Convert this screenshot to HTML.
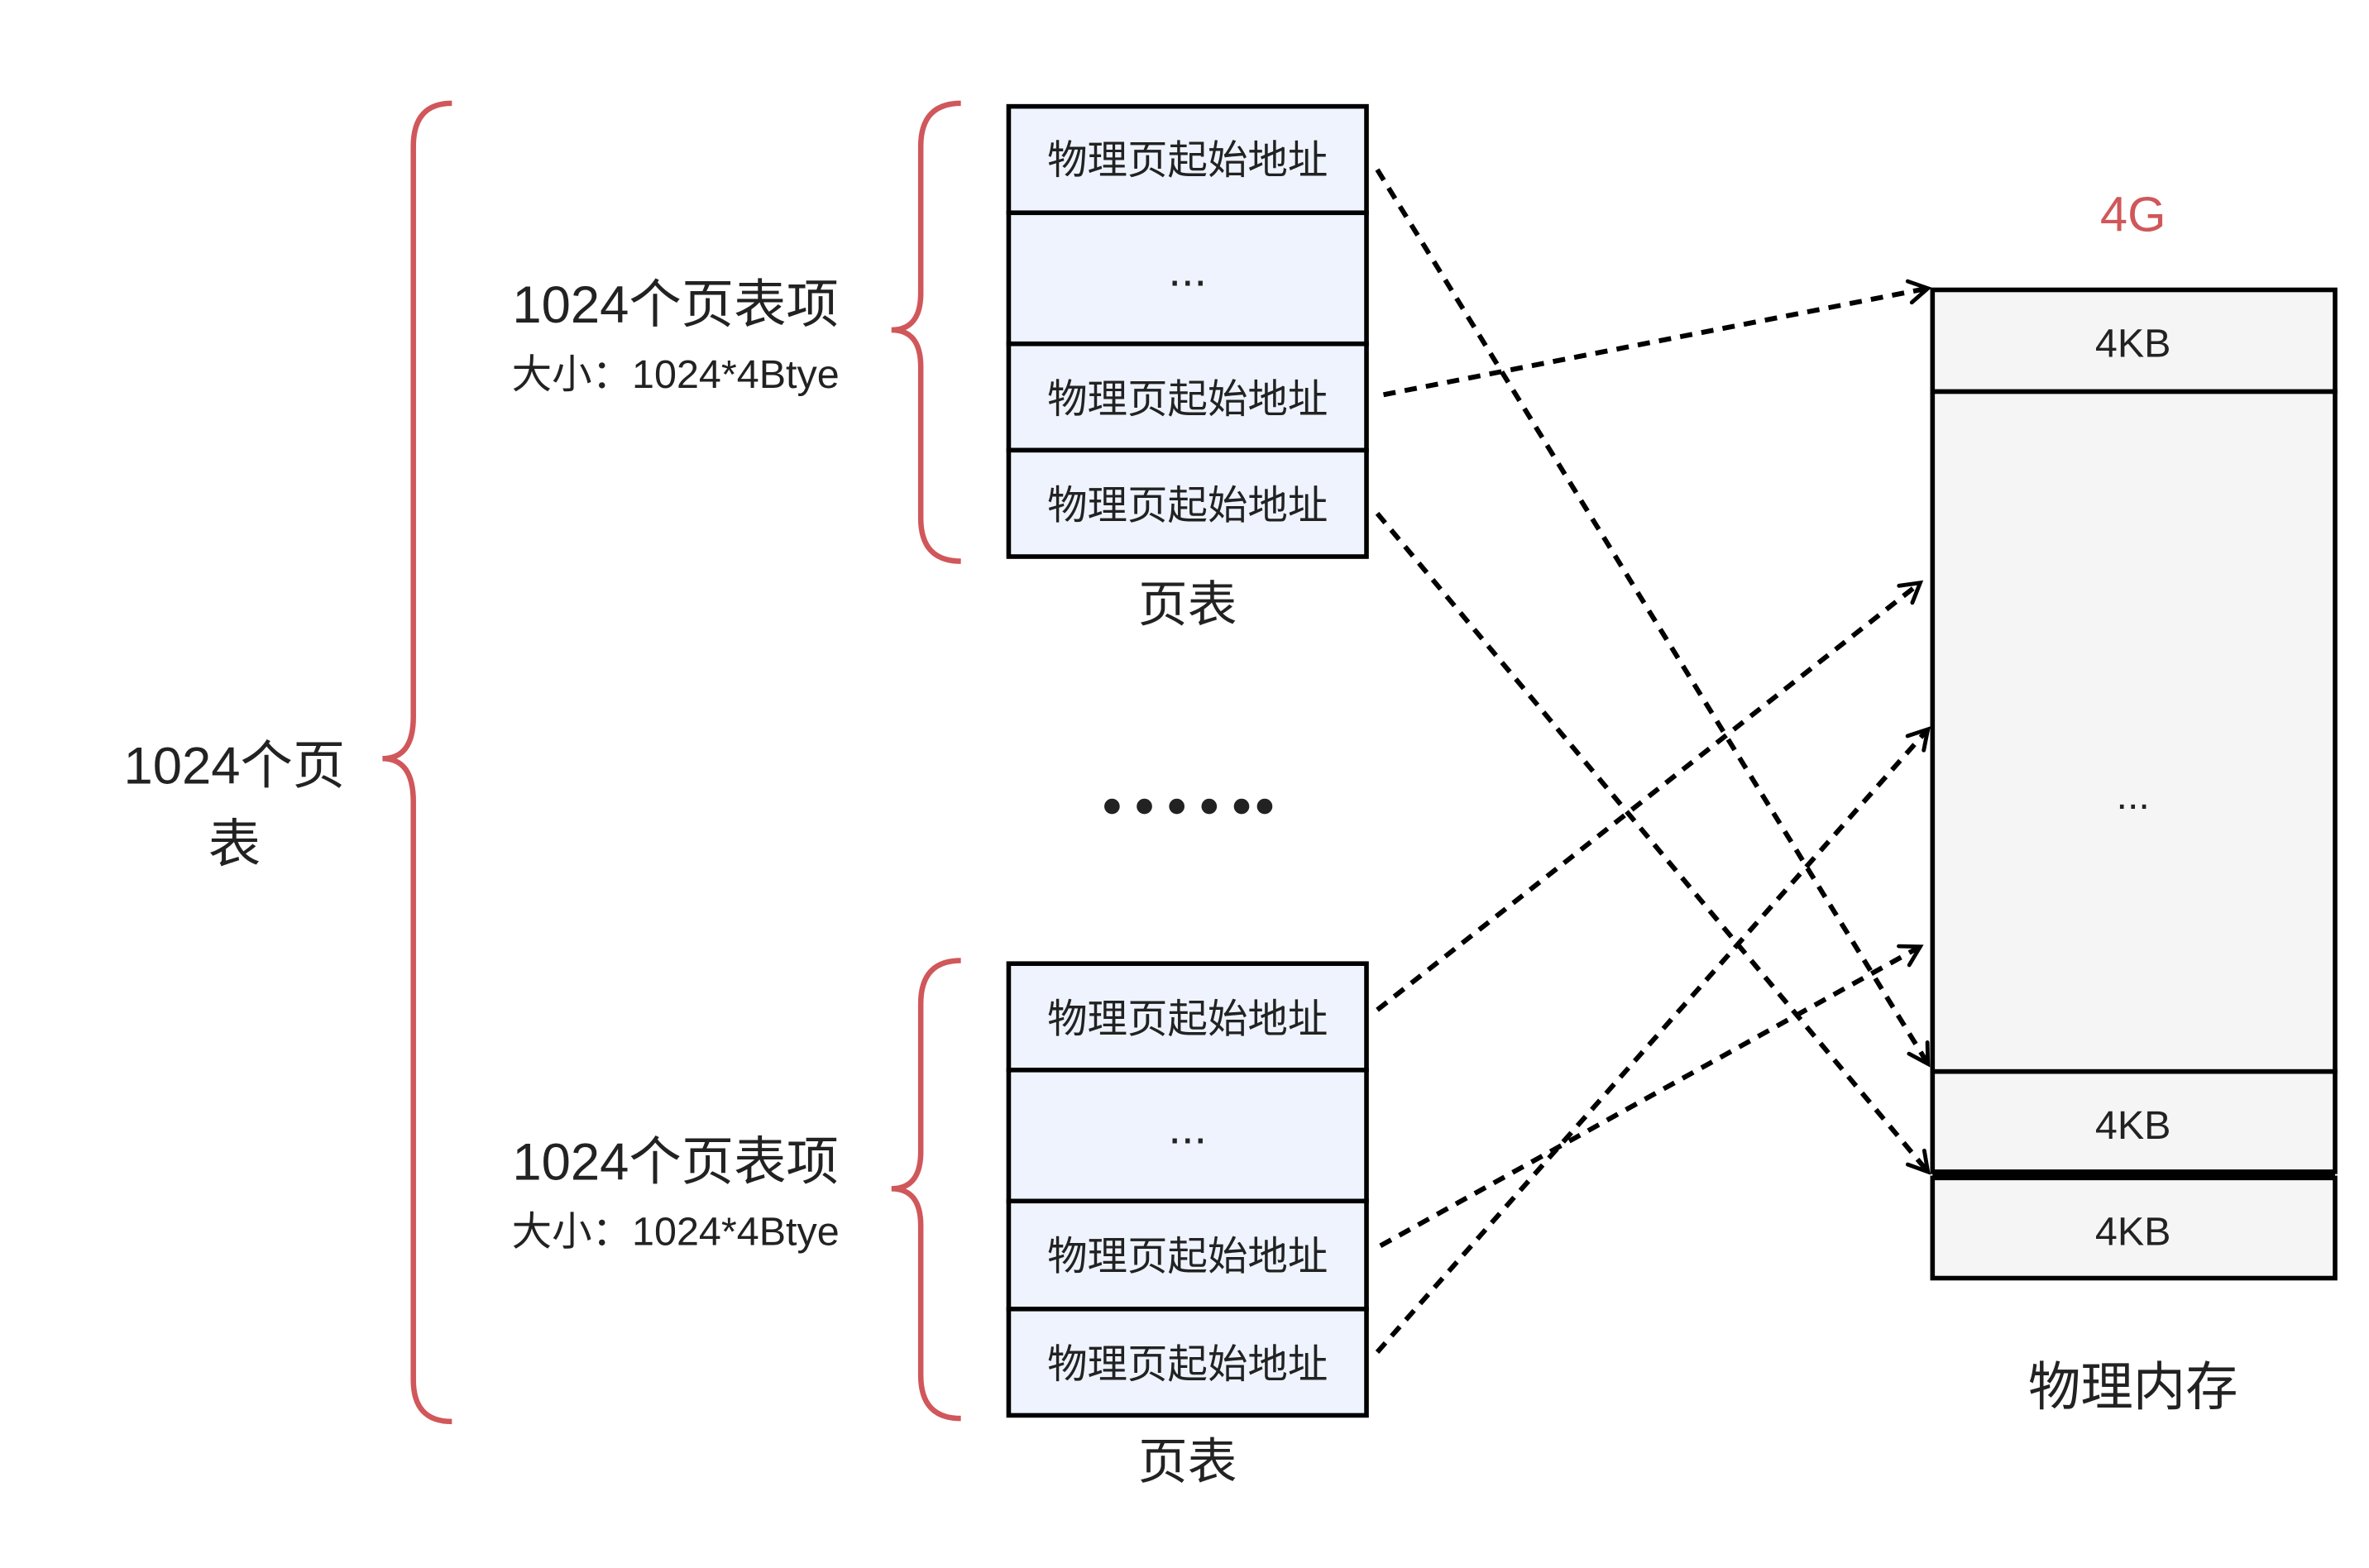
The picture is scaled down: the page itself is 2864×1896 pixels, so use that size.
<!DOCTYPE html>
<html><head><meta charset="utf-8"><style>
html,body{margin:0;padding:0;background:#fff;}
svg{display:block}
text{font-family:"Liberation Sans","Noto Sans CJK SC",sans-serif;fill:#222;text-anchor:middle;dominant-baseline:central}
</style></head><body>
<svg width="2864" height="1896" viewBox="0 0 1536 1017" preserveAspectRatio="none" xmlns="http://www.w3.org/2000/svg">
<defs>
<marker id="ar" viewBox="0 0 20 20" refX="17" refY="10" markerWidth="20" markerHeight="20" orient="auto" markerUnits="userSpaceOnUse">
<path d="M5,3 L17,10 L5,17" fill="none" stroke="#000" stroke-width="2.6" stroke-linecap="round"/>
</marker>
</defs>
<style>.br{fill:none;stroke:#d0575a;stroke-width:3.5}.bx{stroke:#000;stroke-width:3}.dl{fill:none;stroke:#000;stroke-width:3.2;stroke-dasharray:8 6}</style>
<path class="br" d="M293,67 Q268,67 268,95 L268,465 Q268,492 248,492 Q268,492 268,520 L268,895 Q268,922 293,922"/>
<text x="152" y="497" font-size="34">1024个页</text>
<text x="152" y="548" font-size="34">表</text>
<path class="br" d="M623,67 Q597,67 597,95 L597,190 Q597,214 578,214 Q597,214 597,238 L597,336 Q597,364 623,364"/>
<path class="br" d="M623,623 Q597,623 597,651 L597,747 Q597,771 578,771 Q597,771 597,795 L597,892 Q597,920 623,920"/>
<text x="438" y="198" font-size="34">1024个页表项</text>
<text x="438" y="243" font-size="26">大小：1024*4Btye</text>
<text x="438" y="754" font-size="34">1024个页表项</text>
<text x="438" y="799" font-size="26">大小：1024*4Btye</text>
<g fill="#eef3fd" class="bx">
<rect x="654" y="69" width="232" height="69"/><rect x="654" y="138" width="232" height="85"/>
<rect x="654" y="223" width="232" height="69"/><rect x="654" y="292" width="232" height="69"/>
<rect x="654" y="625" width="232" height="69"/><rect x="654" y="694" width="232" height="85"/>
<rect x="654" y="779" width="232" height="70"/><rect x="654" y="849" width="232" height="69"/>
</g>
<g font-size="26">
<text x="770" y="104">物理页起始地址</text><text x="770" y="175" font-size="30">...</text>
<text x="770" y="259">物理页起始地址</text><text x="770" y="328">物理页起始地址</text>
<text x="770" y="661">物理页起始地址</text><text x="770" y="731" font-size="30">...</text>
<text x="770" y="815">物理页起始地址</text><text x="770" y="885">物理页起始地址</text>
</g>
<text x="770" y="392" font-size="32">页表</text>
<text x="770" y="948" font-size="32">页表</text>
<g fill="#222"><circle cx="721" cy="523" r="5"/><circle cx="742" cy="523" r="5"/><circle cx="763" cy="523" r="5"/><circle cx="784" cy="523" r="5"/><circle cx="805" cy="523" r="5"/><circle cx="820" cy="523" r="5"/></g>
<g fill="#f5f5f5" class="bx">
<rect x="1253" y="188" width="261" height="66"/><rect x="1253" y="254" width="261" height="441"/>
<rect x="1253" y="695" width="261" height="65"/><rect x="1253" y="764" width="261" height="65"/>
</g>
<rect x="1253" y="759" width="261" height="6" fill="#000"/>
<text x="1383" y="139" font-size="32" style="fill:#d0575a">4G</text>
<g font-size="26"><text x="1383" y="223">4KB</text><text x="1383" y="516">...</text><text x="1383" y="730">4KB</text><text x="1383" y="799">4KB</text></g>
<text x="1383" y="900" font-size="34">物理内存</text>
<g class="dl" marker-end="url(#ar)">
<path d="M893,110 L1250,690"/>
<path d="M897,256 L1250,187"/>
<path d="M893,333 L1250,760"/>
<path d="M893,655 L1245,378"/>
<path d="M895,808 L1245,614"/>
<path d="M893,877 L1250,473"/>
</g>
</svg>
</body></html>
